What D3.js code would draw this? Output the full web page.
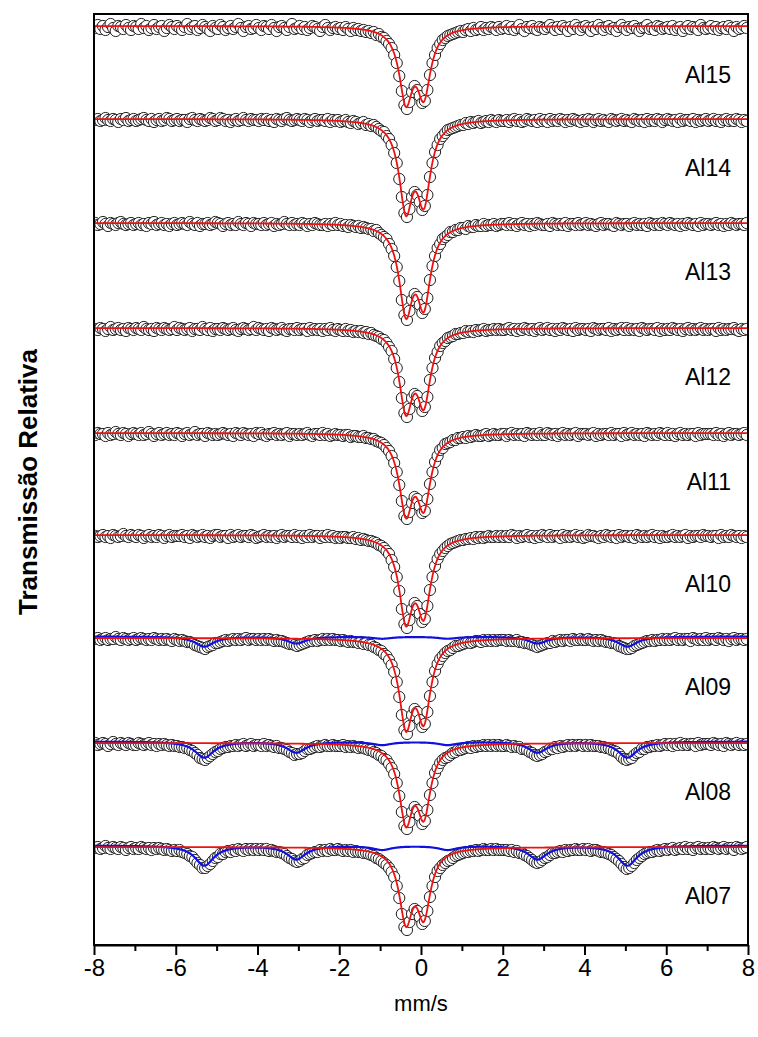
<!DOCTYPE html>
<html>
<head>
<meta charset="utf-8">
<script src="https://cdn.jsdelivr.net/npm/d3@7"></script>
<style>
  body { margin: 0; background: #fff; }
  svg { display: block; }
  text { font-family: Arial, "Liberation Sans", sans-serif; fill: #000; }
</style>
</head>
<body>
<svg id="chart" width="758" height="1037"></svg>
<script>
// ---- Mössbauer spectra, samples Al15 ... Al07 (stacked) ----
const sampleNames = ["Al15", "Al14", "Al13", "Al12", "Al11", "Al10", "Al09", "Al08", "Al07"];
// vertical stacking offset of each spectrum (relative transmission units)
const stackOffset = [0, -0.093, -0.197, -0.302, -0.407, -0.509, -0.612, -0.717, -0.821];

// channel calibration (256 channels)
const channelCount = 256;
const velocityStart = -7.96875;   // mm/s
const velocityStep = 0.0625;      // mm/s per channel

// measured absorption per channel, in per mil (1 - T) * 1000
const absorptionAl15 = [
  2,-1,3,0,4,1,-2,2,5,0,1,3,-1,2,4,0,
  1,3,-2,2,0,4,2,-1,3,1,0,5,2,-1,1,3,
  0,2,4,1,-2,3,1,0,4,2,-1,1,3,5,0,2,
  3,-1,1,4,2,0,3,1,-2,2,5,1,0,3,2,-1,
  2,4,0,1,3,-1,2,5,1,0,2,4,1,-2,3,2,
  0,3,1,4,2,0,1,3,5,1,-1,2,4,2,1,3,
  2,4,1,3,5,2,4,3,5,4,6,5,7,6,9,8,
  11,12,15,18,22,29,37,50,65,79,83,76,66,60,64,70,
  77,75,64,49,37,29,22,18,14,12,10,9,8,7,6,5,
  6,4,3,5,2,4,3,1,4,2,3,1,2,4,1,3,
  2,0,3,1,4,2,-1,3,5,1,2,0,3,4,1,2,
  3,1,-1,2,4,1,3,0,2,5,1,3,-1,2,4,1,
  0,2,5,1,3,-1,2,4,1,0,3,2,5,1,-1,2,
  4,1,2,0,3,5,2,1,-1,3,2,4,0,1,3,2,
  1,3,0,4,2,1,5,2,0,3,1,2,4,-1,2,3,
  2,0,3,1,4,2,1,3,0,2,5,1,3,2,0,2
];
const absorptionAl14 = [
  1,0,2,1,-1,1,2,0,1,3,0,1,-1,2,1,0,
  2,1,0,-1,1,2,0,3,1,0,2,1,-1,0,2,1,
  0,2,1,1,3,0,-1,1,2,0,1,2,1,-1,0,2,
  1,-1,0,2,1,3,1,0,2,1,-1,1,2,0,1,1,
  2,0,1,0,2,1,3,0,1,2,0,-1,1,2,1,0,
  1,2,0,1,3,1,0,2,1,1,2,0,3,1,2,1,
  3,2,1,3,4,2,3,5,4,3,6,5,7,6,8,10,
  12,13,17,20,26,34,44,60,78,94,98,90,78,73,76,83,
  91,87,76,58,44,33,26,20,17,14,11,10,9,8,7,6,
  6,4,5,3,4,3,2,4,3,2,3,1,2,3,1,2,
  2,1,3,1,0,2,1,3,2,0,1,2,1,3,0,2,
  1,3,0,2,1,2,0,1,3,1,2,0,1,2,3,1,
  2,0,1,3,1,0,2,1,2,3,0,1,2,1,0,2,
  1,2,3,0,1,2,1,3,0,2,1,2,0,1,3,1,
  0,1,2,1,3,0,2,1,1,2,0,3,1,2,1,0,
  2,1,0,2,1,3,1,0,2,1,2,0,1,3,1,2
];
const absorptionAl13 = [
  0,2,1,-1,1,3,0,1,2,0,-1,1,2,1,0,2,
  1,0,2,1,3,0,1,-1,2,1,0,2,1,3,1,0,
  2,1,0,1,2,-1,1,2,0,3,1,1,0,2,1,-1,
  0,1,3,1,0,2,1,2,-1,1,2,0,1,3,0,1,
  1,2,0,2,1,0,3,1,2,1,-1,1,2,0,2,1,
  2,0,1,3,1,2,0,1,2,2,1,3,1,2,0,2,
  1,3,2,4,2,3,4,3,5,4,5,6,6,8,7,10,
  12,14,16,21,26,33,44,58,77,92,97,88,77,71,74,82,
  90,86,75,57,43,33,25,21,16,14,12,9,9,7,7,5,
  5,6,3,4,4,2,3,3,1,3,2,2,1,3,2,1,
  1,2,0,2,1,3,1,0,2,1,3,1,2,0,1,2,
  2,1,3,0,1,2,1,2,0,3,1,1,2,0,2,1,
  0,2,1,2,3,1,0,2,1,1,2,3,0,1,2,1,
  1,3,1,0,2,1,2,1,3,0,1,2,1,2,0,1,
  2,0,1,2,1,3,1,2,0,1,2,1,3,0,2,1,
  1,2,1,0,2,1,3,1,2,0,1,2,1,1,2,0
];
const absorptionAl12 = [
  1,2,0,1,3,1,-1,2,1,0,2,1,3,0,1,2,
  0,1,2,-1,1,2,1,3,0,1,2,0,1,2,1,-1,
  2,0,1,2,1,0,3,1,1,2,-1,1,2,0,3,1,
  1,2,0,1,2,1,0,2,3,1,0,1,2,1,-1,2,
  0,1,2,1,3,0,1,2,1,0,2,3,1,1,2,0,
  2,1,1,3,0,2,1,2,1,3,1,2,0,2,3,1,
  2,3,1,3,2,4,3,4,3,5,4,6,5,7,8,9,
  11,12,15,19,23,31,40,54,70,85,89,81,70,66,68,75,
  83,79,69,52,40,30,24,18,15,13,10,9,8,6,6,5,
  5,3,4,3,4,2,3,2,1,3,2,2,1,2,1,2,
  2,1,0,2,1,3,1,2,0,1,2,1,3,1,0,2,
  1,0,2,1,3,1,2,0,1,2,1,3,0,2,1,1,
  2,1,3,0,1,2,1,1,2,0,3,1,2,1,0,2,
  0,2,1,2,1,3,0,1,2,1,1,2,0,3,1,2,
  1,2,0,1,2,1,3,1,0,2,1,2,1,0,2,1,
  2,1,1,3,0,2,1,2,1,1,0,2,3,1,2,1
];
const absorptionAl11 = [
  2,0,1,1,3,0,2,1,-1,1,2,0,1,3,1,0,
  1,2,0,2,1,-1,1,3,1,0,2,1,0,2,1,2,
  0,1,3,1,0,2,1,-1,2,1,1,3,0,1,2,1,
  2,1,0,1,2,1,3,0,1,2,0,1,2,1,3,0,
  1,0,2,3,1,1,0,2,1,2,1,0,3,1,1,2,
  1,2,1,0,2,3,1,1,2,0,2,1,3,2,1,2,
  2,3,2,2,4,3,3,4,4,3,5,5,6,6,8,9,
  10,12,15,18,23,30,39,52,68,83,86,79,70,64,66,73,
  80,78,66,51,39,29,23,17,15,11,10,9,7,7,5,5,
  4,5,3,4,3,2,3,3,2,1,3,2,1,2,2,1,
  1,3,1,0,2,1,2,1,3,0,1,2,1,2,0,2,
  2,0,1,2,1,3,1,0,2,1,2,1,0,3,1,1,
  1,2,1,0,3,1,2,1,1,2,0,2,1,1,3,0,
  2,1,0,2,1,2,1,3,0,1,2,1,2,0,1,2,
  0,2,1,3,1,0,2,1,2,1,1,3,0,2,1,1,
  1,1,2,0,2,1,3,1,0,2,1,1,2,1,0,2
];
const absorptionAl10 = [
  1,2,1,0,2,1,3,0,1,2,1,-1,1,2,0,1,
  2,0,1,3,1,0,2,1,2,0,1,3,1,0,2,1,
  1,1,0,2,1,3,0,1,2,1,0,2,1,3,1,0,
  0,2,1,1,3,0,2,1,0,2,1,1,2,0,1,3,
  2,1,0,2,1,2,1,3,1,0,2,1,1,2,0,2,
  1,3,1,2,0,2,1,1,3,1,2,0,2,1,3,2,
  3,2,2,3,3,2,4,3,5,4,5,6,6,7,8,10,
  11,13,16,19,25,32,42,56,74,89,93,85,74,68,71,79,
  87,84,71,55,42,31,24,19,16,13,11,9,8,7,6,5,
  5,4,4,3,4,2,3,2,3,2,1,2,2,1,2,1,
  2,1,2,0,1,3,1,2,1,0,2,1,3,1,2,0,
  1,2,0,2,1,1,3,0,2,1,2,1,0,2,1,3,
  2,0,1,1,2,3,1,2,0,1,2,1,3,0,2,1,
  1,2,1,3,0,1,2,1,2,1,0,2,1,3,1,2,
  2,1,0,2,1,2,1,0,3,1,2,1,1,2,0,1,
  1,2,1,1,3,0,2,1,2,0,1,2,1,3,1,2
];
const absorptionAl09 = [
  1,0,2,1,0,2,1,1,-1,1,2,0,1,2,1,0,
  2,1,0,1,2,1,2,0,1,2,1,2,1,2,3,1,
  2,3,2,3,4,4,5,7,8,9,10,11,9,8,7,5,
  5,4,3,2,3,2,1,2,1,2,1,0,2,1,1,2,
  1,2,1,2,1,2,3,2,3,3,4,5,6,6,7,8,
  7,6,5,4,3,3,2,3,2,1,2,1,2,1,2,2,
  3,2,3,4,3,4,4,5,4,6,5,7,7,9,10,12,
  13,16,18,22,27,34,44,59,77,92,96,88,77,71,74,82,
  89,86,74,58,44,33,26,21,18,15,13,12,10,8,8,7,
  6,5,4,5,4,3,3,4,2,3,2,3,2,3,2,2,
  2,3,2,3,3,2,4,4,5,5,6,7,8,9,8,7,
  6,5,5,3,4,3,2,3,2,2,3,1,2,2,1,2,
  2,1,2,3,2,3,2,3,4,4,5,5,6,8,9,10,
  11,11,10,8,7,6,5,4,3,3,2,3,2,2,1,2,
  1,2,1,0,2,1,2,1,1,3,0,1,2,1,2,0,
  2,1,1,2,0,1,2,1,3,1,0,2,1,1,2,1
];
const absorptionAl08 = [
  0,2,1,0,1,3,1,-1,1,2,0,1,2,0,1,2,
  2,0,1,2,1,0,2,1,3,1,2,1,2,3,2,3,
  3,4,4,5,5,7,8,10,12,15,16,17,15,13,11,9,
  8,6,5,4,4,3,3,2,3,2,1,3,2,1,3,2,
  2,3,1,3,2,3,4,3,5,5,6,7,9,10,12,11,
  11,10,8,6,6,5,4,3,4,3,2,3,3,2,3,3,
  3,2,4,3,4,3,4,5,4,5,6,7,7,9,10,12,
  13,16,17,21,25,31,40,53,69,83,86,79,69,64,67,73,
  81,78,67,52,40,30,25,20,17,15,14,12,10,9,7,7,
  6,5,4,5,3,4,3,3,2,3,2,3,2,3,2,3,
  3,2,3,4,3,4,4,6,6,7,9,10,12,13,12,11,
  9,8,6,6,4,5,3,4,3,2,3,2,3,2,2,3,
  2,3,2,3,3,3,4,4,5,5,7,8,9,11,14,16,
  17,16,15,12,10,9,6,6,4,4,3,3,2,3,2,1,
  2,1,3,1,2,0,2,1,2,1,1,3,0,2,1,1,
  1,2,0,1,2,1,3,0,1,2,1,0,2,1,2,1
];
const absorptionAl07 = [
  1,0,2,1,-1,1,2,0,1,2,0,1,3,1,0,2,
  1,2,0,1,2,1,3,1,2,1,2,3,2,3,4,3,
  4,3,5,6,7,9,10,13,16,18,21,21,19,17,14,11,
  10,7,7,5,4,5,3,4,2,3,4,2,3,2,3,2,
  3,2,3,2,4,3,4,5,5,6,7,9,11,12,14,15,
  14,12,11,8,7,6,5,5,3,4,3,4,2,3,3,2,
  3,4,3,4,3,5,4,5,5,6,6,7,8,9,11,12,
  14,16,18,21,25,30,39,51,67,80,83,75,67,62,64,70,
  77,74,64,50,39,30,24,21,18,16,14,13,11,9,8,7,
  6,5,5,4,4,3,4,3,2,3,3,2,3,2,3,3,
  3,3,4,3,5,4,6,6,8,9,11,13,15,16,15,13,
  11,10,8,6,6,5,4,5,3,4,3,3,2,3,3,2,
  3,2,4,3,3,4,5,5,6,7,8,10,12,14,17,20,
  22,21,19,16,13,11,9,7,6,5,5,4,3,4,3,2,
  3,2,1,3,2,1,2,0,2,1,3,1,0,2,1,2,
  1,2,0,1,2,1,0,2,1,1,3,0,1,2,1,0
];
const absorption = [absorptionAl15, absorptionAl14, absorptionAl13, absorptionAl12,
  absorptionAl11, absorptionAl10, absorptionAl09, absorptionAl08, absorptionAl07];

// fitted doublet (red): two Lorentzian lines, depths in per mil
const doubletCenters = [-0.37, 0.07];       // mm/s
const doubletHwhm = 0.20;                   // mm/s
const doubletDepthLeft  = [70, 84, 83, 76, 74, 79, 81, 73, 69];
const doubletDepthRight = [64, 76, 75, 69, 67, 72, 74, 66, 63];

// fitted sextet (blue), only present for Al09, Al08, Al07
const sextetPositions = [-5.30, -3.05, -0.95, 0.65, 2.85, 5.05];  // mm/s
const sextetRelative = [1, 0.68, 0.2, 0.2, 0.68, 1];
const sextetHwhm = 0.28;
const sextetDepth = [0, 0, 0, 0, 0, 0, 10, 16, 20];  // outer-line depth, per mil
const sextetBaseShift = 1.5;                        // per mil

const majorTicks = [-8, -6, -4, -2, 0, 2, 4, 6, 8];
const minorTicks = [-7, -5, -3, -1, 1, 3, 5, 7];

// ---- drawing ----
const svg = d3.select("#chart");
const plot = { left: 94, right: 748, top: 14, bottom: 945 };

const x = d3.scaleLinear().domain([-8, 8]).range([plot.left, plot.right]);
const y = d3.scaleLinear().domain([0.081, 1.012]).range([plot.bottom, plot.top]);

svg.append("defs").append("clipPath").attr("id", "plotClip")
  .append("rect")
  .attr("x", plot.left).attr("y", plot.top)
  .attr("width", plot.right - plot.left).attr("height", plot.bottom - plot.top);

const channelVelocity = d3.range(channelCount).map(i => velocityStart + i * velocityStep);
const curveVelocity = d3.range(-8, 8.0001, 0.02);
const lorentz = (v, c, g) => 1 / (1 + ((v - c) / g) ** 2);

const area = svg.append("g").attr("clip-path", "url(#plotClip)");

sampleNames.forEach((name, s) => {
  const base = 1 + stackOffset[s];
  const g = area.append("g").attr("class", "spectrum");

  // measured points
  g.selectAll("circle")
    .data(absorption[s].map((a, i) => [channelVelocity[i], base - a / 1000]))
    .join("circle")
    .attr("cx", d => x(d[0]))
    .attr("cy", d => y(d[1]))
    .attr("r", 5.6)
    .attr("fill", "#fff")
    .attr("stroke", "#222")
    .attr("stroke-width", 1);

  const line = d3.line().x(d => x(d[0])).y(d => y(d[1]));

  // sextet subspectrum
  if (sextetDepth[s] > 0) {
    const sext = curveVelocity.map(v => {
      let a = 0;
      sextetPositions.forEach((c, j) => { a += sextetDepth[s] * sextetRelative[j] * lorentz(v, c, sextetHwhm); });
      return [v, base + (sextetBaseShift - a) / 1000];
    });
    g.append("path").datum(sext).attr("d", line)
      .attr("fill", "none").attr("stroke", "#1010e0").attr("stroke-width", 2.2);
  }

  // doublet subspectrum
  const doub = curveVelocity.map(v => {
    const a = doubletDepthLeft[s] * lorentz(v, doubletCenters[0], doubletHwhm)
            + doubletDepthRight[s] * lorentz(v, doubletCenters[1], doubletHwhm);
    return [v, base - a / 1000];
  });
  g.append("path").datum(doub).attr("d", line)
    .attr("fill", "none").attr("stroke", "#ee1111").attr("stroke-width", 1.8);

  // sample label
  svg.append("text")
    .attr("x", 731)
    .attr("y", y(base) + 57)
    .attr("text-anchor", "end")
    .attr("font-size", 23)
    .text(name);
});

// frame
svg.append("rect")
  .attr("x", plot.left).attr("y", plot.top)
  .attr("width", plot.right - plot.left).attr("height", plot.bottom - plot.top)
  .attr("fill", "none").attr("stroke", "#000").attr("stroke-width", 2);

// bottom axis
const axisG = svg.append("g").attr("transform", `translate(0,${plot.bottom})`);
axisG.call(d3.axisBottom(x).tickValues(majorTicks).tickSize(10).tickSizeOuter(0)
  .tickPadding(4).tickFormat(d => String(d)));
axisG.select(".domain").attr("stroke-width", 2);
axisG.selectAll(".tick line").attr("stroke-width", 2);
axisG.selectAll(".tick text").attr("font-size", 24).attr("font-family", "Arial, 'Liberation Sans', sans-serif");

const minorG = svg.append("g").attr("transform", `translate(0,${plot.bottom})`);
minorG.call(d3.axisBottom(x).tickValues(minorTicks).tickSize(6).tickSizeOuter(0).tickFormat(""));
minorG.select(".domain").remove();
minorG.selectAll(".tick line").attr("stroke-width", 2);

// axis titles
svg.append("text")
  .attr("x", x(0)).attr("y", 1011)
  .attr("text-anchor", "middle")
  .attr("font-size", 22)
  .text("mm/s");

svg.append("text")
  .attr("transform", "translate(37,482) rotate(-90)")
  .attr("text-anchor", "middle")
  .attr("font-size", 26)
  .attr("font-weight", "bold")
  .text("Transmissão Relativa");
</script>
</body>
</html>
